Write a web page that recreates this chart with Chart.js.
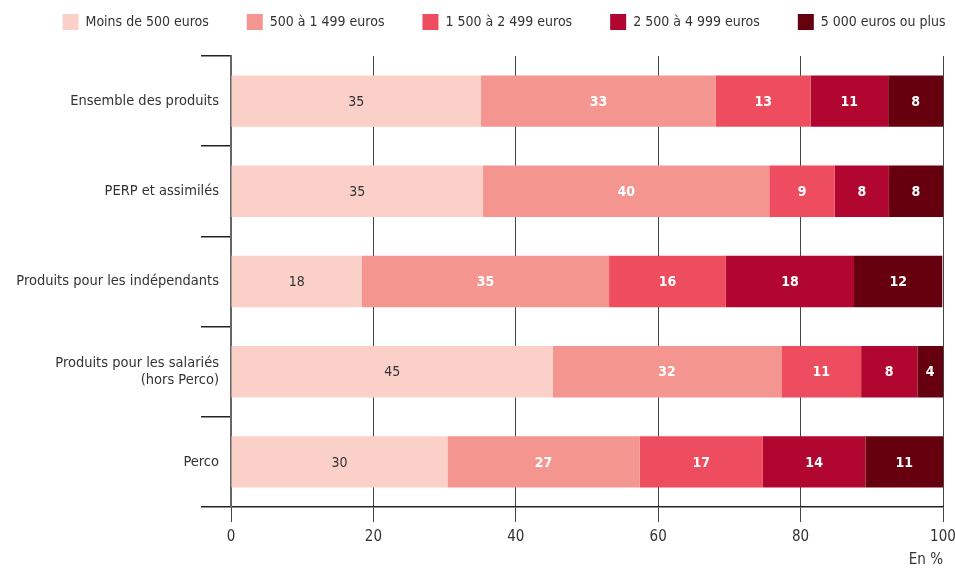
<!DOCTYPE html>
<html>
<head>
<meta charset="utf-8">
<script src="https://cdn.jsdelivr.net/npm/chart.js@4"></script>
<style>
  body { margin: 0; background: #fff; }
  #wrap { width: 955px; height: 568px; }
</style>
</head>
<body>
<div id="wrap"><canvas id="chart"></canvas></div>
<script>
const categories = [
    'Ensemble des produits',
    'PERP et assimilés',
    'Produits pour les indépendants',
    ['Produits pour les salariés', '(hors Perco)'],
    'Perco'
];
const seriesNames = ['Moins de 500 euros', '500 à 1 499 euros', '1 500 à 2 499 euros', '2 500 à 4 999 euros', '5 000 euros ou plus'];
const moins500 = [35.1, 35.4, 18.4, 45.2, 30.4];
const de500a1499 = [33.0, 40.2, 34.7, 32.1, 27.0];
const de1500a2499 = [13.3, 9.2, 16.4, 11.2, 17.3];
const de2500a4999 = [10.9, 7.6, 18.0, 7.9, 14.4];
const plus5000 = [7.7, 7.6, 12.4, 3.6, 10.9];
const xTicks = [0, 20, 40, 60, 80, 100];

const colors = ['#fbd0c9', '#f4968f', '#ee4c5f', '#b0062f', '#66000f'];
const fontName = '"Liberation Sans Narrow", "DejaVu Sans Condensed", sans-serif';

const allSeries = [moins500, de500a1499, de1500a2499, de2500a4999, plus5000];
const datasets = allSeries.map((vals, i) => ({
    label: seriesNames[i],
    data: vals,
    backgroundColor: colors[i],
    borderWidth: 0,
    barPercentage: 0.57,
    categoryPercentage: 1
}));

// value labels in the middle of each segment
const barLabels = {
    id: 'barLabels',
    afterDatasetsDraw(chart) {
        const ctx = chart.ctx;
        ctx.save();
        ctx.textAlign = 'center';
        ctx.textBaseline = 'middle';
        chart.data.datasets.forEach((ds, i) => {
            const meta = chart.getDatasetMeta(i);
            meta.data.forEach((bar, j) => {
                const x = (bar.x + bar.base) / 2;
                if (i == 0) {
                    ctx.fillStyle = '#333';
                    ctx.font = '14px ' + fontName;
                } else {
                    ctx.fillStyle = '#fff';
                    ctx.font = 'bold 14px ' + fontName;
                }
                ctx.fillText(Math.round(ds.data[j]), x, bar.y + 1);
            });
        });
        ctx.restore();
    }
};

const legendGap = 38;

// widen the legend box so the five items stay on one row, centred on x = 504
const legendRow = {
    id: 'legendRow',
    afterLayout(chart) {
        chart.legend.left = 504 - 700;
        chart.legend.right = 504 + 700;
    }
};

const chart = new Chart(document.getElementById('chart'), {
    type: 'bar',
    data: { labels: categories, datasets: datasets },
    plugins: [barLabels, legendRow],
    options: {
        indexAxis: 'y',
        responsive: true,
        maintainAspectRatio: false,
        animation: false,
        layout: { padding: { top: 14 - legendGap, right: 12, left: 0, bottom: 0 } },
        scales: {
            x: {
                stacked: true,
                min: 0,
                max: 100,
                afterBuildTicks: (scale) => { scale.ticks = xTicks.map(v => ({ value: v })); },
                afterFit: (scale) => { scale.paddingRight = 0; },
                grid: { color: '#444', lineWidth: 1, tickLength: 15 },
                border: { color: '#222', width: 1.5 },
                ticks: { color: '#333', font: { family: fontName, size: 15 }, padding: 6 },
                title: {
                    display: true, text: 'En %', align: 'end', color: '#333',
                    font: { family: fontName, size: 15, lineHeight: 1 }, padding: { top: 1, bottom: 0 }
                }
            },
            y: {
                stacked: true,
                afterFit: (scale) => { scale.width = 231; },
                grid: { drawOnChartArea: false, offset: true, tickLength: 30, color: '#222', lineWidth: 1.5 },
                border: { color: '#666', width: 2 },
                ticks: { color: '#333', font: { family: fontName, size: 14.5 }, padding: -18 }
            }
        },
        plugins: {
            legend: {
                position: 'top',
                labels: {
                    boxWidth: 16, boxHeight: 16, padding: legendGap,
                    color: '#333', font: { family: fontName, size: 14 }
                }
            },
            tooltip: { enabled: false }
        }
    }
});

// one legend row, and the legend ends where the plot starts (y = 56)
const origFit = chart.legend.fit;
chart.legend.fit = function () {
    const mw = this.maxWidth;
    this.maxWidth = mw + 400;
    origFit.call(this);
    this.maxWidth = mw;
    this.width = mw;
    this.height = 56 - (14 - legendGap);
};
chart.update();
</script>
</body>
</html>
